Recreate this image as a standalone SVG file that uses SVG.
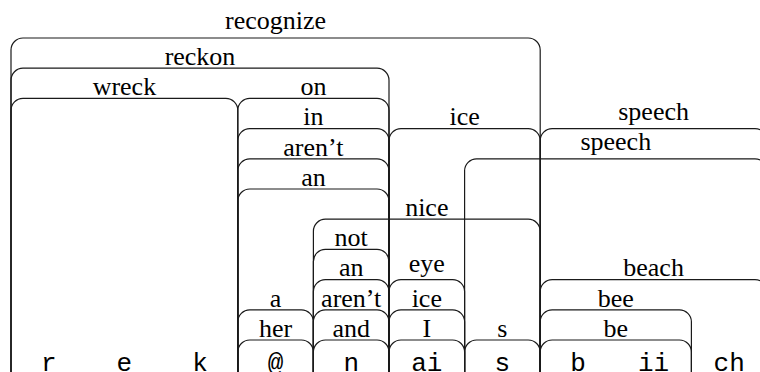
<svg xmlns="http://www.w3.org/2000/svg" width="760" height="372" viewBox="0 0 760 372">
<style>
.b{fill:none;stroke:#1a1a1a;stroke-width:1.2}
.l{font-family:"Liberation Serif","Times New Roman",serif;font-size:26px;fill:#000;text-anchor:middle}
.p{font-family:"Liberation Mono","Courier New",monospace;font-size:26px;fill:#000;text-anchor:middle}
</style>
<rect width="760" height="372" fill="#fff"/>
<g id="connectors">
<path id="c-recognize" class="b" d="M11 380V50A12 12 0 0 1 23 38H528.2A12 12 0 0 1 540.2 50V380"/>
<path id="c-reckon" class="b" d="M11 380V80.2A12 12 0 0 1 23 68.2H377A12 12 0 0 1 389 80.2V380"/>
<path id="c-wreck" class="b" d="M11 380V110.4A12 12 0 0 1 23 98.4H225.8A12 12 0 0 1 237.8 110.4V380"/>
<path id="c-on" class="b" d="M237.8 380V110.4A12 12 0 0 1 249.8 98.4H377A12 12 0 0 1 389 110.4V380"/>
<path id="c-in" class="b" d="M237.8 380V140.6A12 12 0 0 1 249.8 128.6H377A12 12 0 0 1 389 140.6V380"/>
<path id="c-arent1" class="b" d="M237.8 380V170.8A12 12 0 0 1 249.8 158.8H377A12 12 0 0 1 389 170.8V380"/>
<path id="c-an1" class="b" d="M237.8 380V201A12 12 0 0 1 249.8 189H377A12 12 0 0 1 389 201V380"/>
<path id="c-ice1" class="b" d="M389 380V140.6A12 12 0 0 1 401 128.6H528.2A12 12 0 0 1 540.2 140.6V380"/>
<path id="c-speech1" class="b" d="M540.2 380V140.6A12 12 0 0 1 552.2 128.6H755A12 12 0 0 1 767 140.6V380"/>
<path id="c-speech2" class="b" d="M464.6 380V170.8A12 12 0 0 1 476.6 158.8H755A12 12 0 0 1 767 170.8V380"/>
<path id="c-nice" class="b" d="M313.4 380V231.2A12 12 0 0 1 325.4 219.2H528.2A12 12 0 0 1 540.2 231.2V380"/>
<path id="c-not" class="b" d="M313.4 380V261.4A12 12 0 0 1 325.4 249.4H377A12 12 0 0 1 389 261.4V380"/>
<path id="c-an2" class="b" d="M313.4 380V291.6A12 12 0 0 1 325.4 279.6H377A12 12 0 0 1 389 291.6V380"/>
<path id="c-arent2" class="b" d="M313.4 380V321.8A12 12 0 0 1 325.4 309.8H377A12 12 0 0 1 389 321.8V380"/>
<path id="c-and" class="b" d="M313.4 380V352A12 12 0 0 1 325.4 340H377A12 12 0 0 1 389 352V380"/>
<path id="c-a" class="b" d="M237.8 380V321.8A12 12 0 0 1 249.8 309.8H301.4A12 12 0 0 1 313.4 321.8V380"/>
<path id="c-her" class="b" d="M237.8 380V352A12 12 0 0 1 249.8 340H301.4A12 12 0 0 1 313.4 352V380"/>
<path id="c-eye" class="b" d="M389 380V291.6A12 12 0 0 1 401 279.6H452.6A12 12 0 0 1 464.6 291.6V380"/>
<path id="c-ice2" class="b" d="M389 380V321.8A12 12 0 0 1 401 309.8H452.6A12 12 0 0 1 464.6 321.8V380"/>
<path id="c-I" class="b" d="M389 380V352A12 12 0 0 1 401 340H452.6A12 12 0 0 1 464.6 352V380"/>
<path id="c-s" class="b" d="M464.6 380V352A12 12 0 0 1 476.6 340H528.2A12 12 0 0 1 540.2 352V380"/>
<path id="c-beach" class="b" d="M540.2 380V291.6A12 12 0 0 1 552.2 279.6H755A12 12 0 0 1 767 291.6V380"/>
<path id="c-bee" class="b" d="M540.2 380V321.8A12 12 0 0 1 552.2 309.8H679.4A12 12 0 0 1 691.4 321.8V380"/>
<path id="c-be" class="b" d="M540.2 380V352A12 12 0 0 1 552.2 340H679.4A12 12 0 0 1 691.4 352V380"/>
</g>
<g id="n-recognize"><text class="l" x="275.6" y="28.5">recognize</text></g>
<g id="n-reckon"><text class="l" x="200" y="65">reckon</text></g>
<g id="n-wreck"><text class="l" x="124.4" y="95.2">wreck</text></g>
<g id="n-on"><text class="l" x="313.4" y="95.2">on</text></g>
<g id="n-in"><text class="l" x="313.4" y="125.4">in</text></g>
<g id="n-arent1"><text class="l" x="313.4" y="155.6">aren’t</text></g>
<g id="n-an1"><text class="l" x="313.4" y="185.8">an</text></g>
<g id="n-ice1"><text class="l" x="464.6" y="125.4">ice</text></g>
<g id="n-speech1"><text class="l" x="653.6" y="119.6">speech</text></g>
<g id="n-speech2"><text class="l" x="615.8" y="149.6">speech</text></g>
<g id="n-nice"><text class="l" x="426.8" y="216">nice</text></g>
<g id="n-not"><text class="l" x="351.2" y="246.2">not</text></g>
<g id="n-an2"><text class="l" x="351.2" y="276.4">an</text></g>
<g id="n-arent2"><text class="l" x="351.2" y="306.6">aren’t</text></g>
<g id="n-and"><text class="l" x="351.2" y="336.8">and</text></g>
<g id="n-a"><text class="l" x="275.6" y="306.6">a</text></g>
<g id="n-her"><text class="l" x="275.6" y="336.8">her</text></g>
<g id="n-eye"><text class="l" x="426.8" y="272">eye</text></g>
<g id="n-ice2"><text class="l" x="426.8" y="306.6">ice</text></g>
<g id="n-I"><text class="l" x="426.8" y="336.8">I</text></g>
<g id="n-s"><text class="l" x="502.4" y="336.8">s</text></g>
<g id="n-beach"><text class="l" x="653.6" y="276.4">beach</text></g>
<g id="n-bee"><text class="l" x="615.8" y="306.6">bee</text></g>
<g id="n-be"><text class="l" x="615.8" y="336.8">be</text></g>
<g id="phones">
<text class="p" x="48.8" y="371">r</text>
<text class="p" x="124.4" y="371">e</text>
<text class="p" x="200" y="371">k</text>
<text class="p" x="275.6" y="371">@</text>
<text class="p" x="351.2" y="371">n</text>
<text class="p" x="426.8" y="371">ai</text>
<text class="p" x="502.4" y="371">s</text>
<text class="p" x="578" y="371">b</text>
<text class="p" x="653.6" y="371">ii</text>
<text class="p" x="729.2" y="371">ch</text>
</g>
</svg>
